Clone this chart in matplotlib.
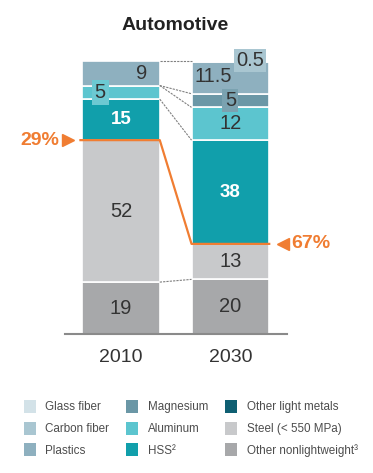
import numpy as np
import matplotlib.pyplot as plt
from matplotlib.patches import Patch

plt.rcParams['font.family'] = ['Liberation Sans', 'DejaVu Sans']

# Material shares (%) per year, bottom to top
years = ['2010', '2030']
materials = ['Other nonlightweight³', 'Steel (< 550 MPa)', 'HSS²', 'Aluminum',
             'Magnesium', 'Plastics', 'Carbon fiber']
share_2010 = [19, 52, 15, 5, 0, 9, 0]
share_2030 = [20, 13, 38, 12, 5, 11.5, 0.5]
lightweight_share = [29, 67]

legend_names = ['Glass fiber', 'Carbon fiber', 'Plastics',
                'Magnesium', 'Aluminum', 'HSS²',
                'Other light metals', 'Steel (< 550 MPa)', 'Other nonlightweight³']

colors = {
    'Glass fiber': '#d3e2e8',
    'Carbon fiber': '#a9c6d1',
    'Plastics': '#8eb0bf',
    'Magnesium': '#6b97a6',
    'Aluminum': '#5cc5cf',
    'HSS²': '#119fab',
    'Other light metals': '#0f5f72',
    'Steel (< 550 MPa)': '#c8c9cb',
    'Other nonlightweight³': '#a7a8aa',
}
orange = '#f07d32'
txt = '#333333'

fig = plt.figure(figsize=(3.73, 4.73), dpi=100)
ax = fig.add_axes([0.0895, 0.2939, 0.7335, 0.5772])
ax.set_xlim(-0.8, 1.7)
ax.set_ylim(0, 100)
ax.axis('off')

w = 0.71
x = np.arange(len(years))
for i, shares in enumerate([share_2010, share_2030]):
    bottom = 0
    for m, v in zip(materials, shares):
        if v == 0:
            continue
        ax.bar(x[i], v, w, bottom=bottom, color=colors[m], edgecolor='white',
               linewidth=1.2)
        bottom += v

# baseline
ax.plot([-0.51, 1.52], [0, 0], color='#8a8a8a', lw=1.5, clip_on=False)

# segment labels
fs = 14.5
ax.text(0, 9.5, '19', ha='center', va='center', fontsize=fs, color=txt)
ax.text(0, 45, '52', ha='center', va='center', fontsize=fs, color=txt)
ax.text(0, 78.5, '15', ha='center', va='center', fontsize=fs - 1, color='white', weight='bold')
ax.text(-0.19, 88.5, '5', ha='center', va='center', fontsize=fs, color=txt,
        bbox=dict(boxstyle='square,pad=0.14', fc='#6cc9d2', ec='none'))
ax.text(0.19, 95.5, '9', ha='center', va='center', fontsize=fs, color=txt)

ax.text(1, 10, '20', ha='center', va='center', fontsize=fs, color=txt)
ax.text(1, 26.5, '13', ha='center', va='center', fontsize=fs, color=txt)
ax.text(1, 52, '38', ha='center', va='center', fontsize=fs - 1, color='white', weight='bold')
ax.text(1, 77, '12', ha='center', va='center', fontsize=fs, color=txt)
ax.text(1, 85.5, '5', ha='center', va='center', fontsize=fs, color=txt,
        bbox=dict(boxstyle='square,pad=0.12', fc='#7aa2b0', ec='none'))
ax.text(0.84, 94.3, '11.5', ha='center', va='center', fontsize=fs, color=txt)
ax.text(1.18, 100.3, '0.5', ha='center', va='center', fontsize=fs, color=txt,
        bbox=dict(boxstyle='square,pad=0.1', fc=colors['Carbon fiber'], ec='none'),
        clip_on=False)

# dashed connectors between bars
c10 = np.cumsum(share_2010)
c30 = np.cumsum(share_2030)
links = [(c10[-1], c30[-1]), (c10[3], c30[4]), (c10[3], c30[3]),
         (c10[2], c30[2]), (c10[0], c30[0])]
for a, b in links:
    ax.plot([w / 2, 1 - w / 2], [a, b], color='#808080', lw=0.8, ls=(0, (2, 1)),
            clip_on=False)

# lightweight share line
y0, y1 = c10[1], c30[1]
ax.plot([-0.37, w / 2, 1 - w / 2, 1 + w / 2], [y0, y0, y1, y1], color=orange,
        lw=1.6, clip_on=False, zorder=5)
ax.plot([-0.48], [y0], marker='>', color=orange, ms=8, clip_on=False)
ax.plot([1.48], [y1], marker='<', color=orange, ms=8, clip_on=False)
ax.text(-0.56, y0, f'{lightweight_share[0]}%', ha='right', va='center',
        fontsize=14, color=orange, weight='bold')
ax.text(1.56, y1, f'{lightweight_share[1]}%', ha='left', va='center',
        fontsize=14, color=orange, weight='bold')

# year labels
for i, yr in enumerate(years):
    ax.text(x[i], -8.5, yr, ha='center', va='center', fontsize=14, color=txt)

fig.text(0.469, 0.947, 'Automotive', ha='center', va='center', fontsize=14,
         weight='bold', color='#222222')

handles = [Patch(facecolor=colors[n], edgecolor='none') for n in legend_names]
fig.legend(handles, legend_names, loc='upper left', bbox_to_anchor=(0.064, 0.155),
           ncol=3, frameon=False, fontsize=8.4, handlelength=1.0, handleheight=1.35,
           handletextpad=0.85, columnspacing=1.45, labelspacing=0.72,
           labelcolor='#4d4d4d', borderaxespad=0, borderpad=0)

fig.savefig('out.png', dpi=100)
